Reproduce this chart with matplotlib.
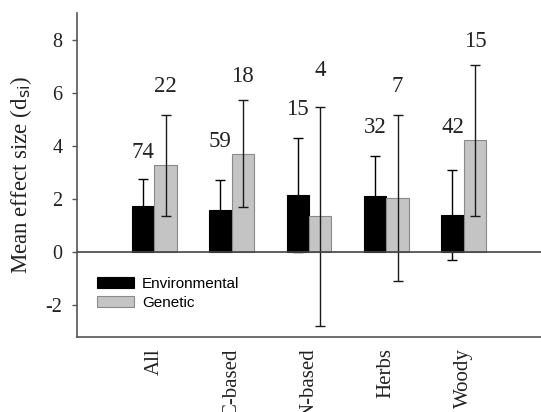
import matplotlib
matplotlib.use("Agg")
import matplotlib.pyplot as plt
import numpy as np

categories = ["All", "C-based", "N-based", "Herbs", "Woody"]
env_mean = [1.75, 1.60, 2.15, 2.12, 1.40]
env_err = [1.00, 1.10, 2.15, 1.50, 1.69]
gen_mean = [3.27, 3.70, 1.34, 2.03, 4.20]
gen_err = [1.90, 2.01, 4.13, 3.12, 2.86]
env_n = ["74", "59", "15", "32", "42"]
gen_n = ["22", "18", "4", "7", "15"]
env_label_y = [3.73, 4.18, 5.38, 4.69, 4.69]
gen_label_y = [6.24, 6.60, 6.82, 6.24, 7.93]
yticks = [-2, 0, 2, 4, 6, 8]

fig = plt.figure(figsize=(5.41, 4.12), dpi=100)
ax = fig.add_axes([77/541, 1-337/412, 1-77/541, (337-13)/412])

x = np.arange(len(categories))
w = 0.29
serif = "Liberation Serif"

ax.bar(x - w/2, env_mean, w, color="black", edgecolor="black", linewidth=0.8,
       yerr=env_err, error_kw=dict(ecolor="black", elinewidth=1.0, capsize=3.5, capthick=1.0),
       label="Environmental", zorder=2)
ax.bar(x + w/2, gen_mean, w, color="#c4c4c4", edgecolor="#8a8a8a", linewidth=0.8,
       yerr=gen_err, error_kw=dict(ecolor="#1a1a1a", elinewidth=1.0, capsize=3.5, capthick=1.0),
       label="Genetic", zorder=2)

for i in range(len(categories)):
    ax.text(x[i] - w/2, env_label_y[i], env_n[i], ha="center", va="center",
            fontsize=16.5, family=serif, color="#222222")
    ax.text(x[i] + w/2, gen_label_y[i], gen_n[i], ha="center", va="center",
            fontsize=16.5, family=serif, color="#222222")

ax.axhline(0, color="#444444", lw=1.2, zorder=3)
ax.set_xlim(-1, 5)
ax.set_ylim(-3.2, 9.0)
ax.set_yticks(yticks)
ax.set_yticklabels([str(t) for t in yticks], family=serif, fontsize=14.5, color="#222222")
ax.set_xticks(x)
ax.set_xticklabels(categories, rotation=90, family=serif, fontsize=15, color="#222222", va="top")
ax.tick_params(axis="x", length=0, pad=8)
ax.tick_params(axis="y", length=3.5, width=1, color="#555555", pad=7, direction="out")

for s in ["top", "right"]:
    ax.spines[s].set_visible(False)
for s in ["left", "bottom"]:
    ax.spines[s].set_color("#555555")
    ax.spines[s].set_linewidth(1.2)

ax.set_ylabel(r"Mean effect size (d$_{\mathrm{si}}$)", family=serif, fontsize=16.5, color="#222222")
ax.yaxis.set_label_coords(-0.093, 0.5)

leg = ax.legend(loc="upper left", bbox_to_anchor=(97/541, 1-277/412), bbox_transform=fig.transFigure,
                frameon=False, prop=dict(family="Liberation Sans", size=11),
                handlelength=2.45, handleheight=0.75, handletextpad=0.5, labelspacing=0.3,
                borderpad=0, borderaxespad=0)

fig.savefig("out.png", dpi=100)
